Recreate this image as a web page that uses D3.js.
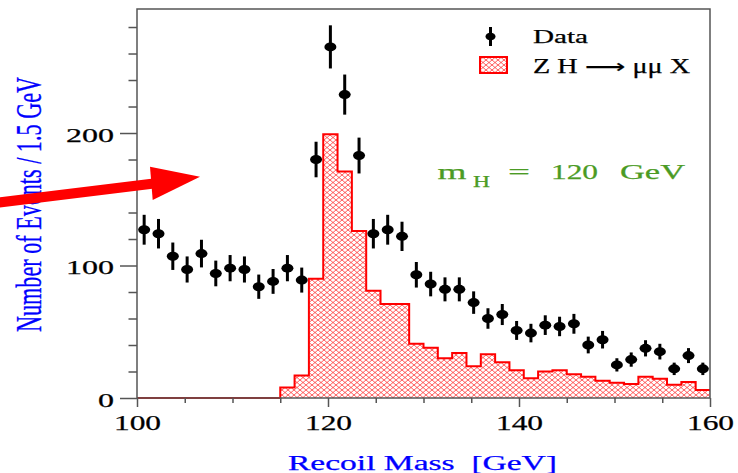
<!DOCTYPE html>
<html>
<head>
<meta charset="utf-8">
<script src="https://cdn.jsdelivr.net/npm/d3@7"></script>
<style>
  body { margin: 0; background: #fff; }
  text { font-family: "Liberation Serif", "Times New Roman", serif; }
</style>
</head>
<body>
<script>
// bin edges of the recoil mass histogram (1.5 GeV bins)
const binEdges = [100, 101.5, 103, 104.5, 106, 107.5, 109, 110.5, 112, 113.5,
  115, 116.5, 118, 119.5, 121, 122.5, 124, 125.5, 127, 128.5,
  130, 131.5, 133, 134.5, 136, 137.5, 139, 140.5, 142, 143.5,
  145, 146.5, 148, 149.5, 151, 152.5, 154, 155.5, 157, 158.5, 160];

// observed events per bin (black points)
const dataCounts = [127, 124, 107, 97, 109, 94, 98, 97, 84, 88,
  98, 89, 180, 265, 229, 183, 124, 127, 122, 93,
  86, 82, 82, 72, 60, 63, 51, 49, 55, 54,
  56, 40, 44, 25, 29, 37.5, 35, 22, 32, 22];

// Z H -> mu mu X signal per bin (red hatched histogram)
const signalCounts = [0, 0, 0, 0, 0, 0, 0, 0, 0, 0,
  8, 17, 90, 199, 171, 126, 81, 71, 71, 41,
  38, 30, 34, 24, 33, 27, 21, 15, 20, 21,
  18, 16, 13, 11.5, 10.5, 16, 14.5, 10, 12, 6];

const xMajorTicks = [100, 120, 140, 160];
const xMinorTicks = [105, 110, 115, 125, 130, 135, 145, 150, 155];
const yMajorTicks = [0, 100, 200];
const yMinorTicks = [20, 40, 60, 80, 120, 140, 160, 180, 220, 240, 260, 280];

const legendLabels = ['Data', 'Z H \u27f6 \u03bc\u03bc X'];

const W = 738, H = 473;
const svg = d3.select('body').append('svg')
  .attr('width', W).attr('height', H);

const x = d3.scaleLinear().domain([100, 160]).range([137, 710]);
const y = d3.scaleLinear().domain([0, 293.6]).range([398, 9]);

// hatch pattern
const defs = svg.append('defs');
defs.append('pattern')
  .attr('id', 'hatch')
  .attr('patternUnits', 'userSpaceOnUse')
  .attr('width', 6).attr('height', 5)
  .append('path')
  .attr('d', 'M0,0 L6,5 M6,0 L0,5')
  .attr('stroke', '#ff2a2a')
  .attr('stroke-width', 0.75)
  .attr('fill', 'none');

// histogram
const histPts = signalCounts.map((v, i) => [binEdges[i], v]);
histPts.push([binEdges[binEdges.length - 1], signalCounts[signalCounts.length - 1]]);

svg.append('path')
  .datum(histPts)
  .attr('d', d3.area().curve(d3.curveStepAfter)
    .x(d => x(d[0])).y0(y(0)).y1(d => y(d[1])))
  .attr('fill', 'url(#hatch)');

svg.append('path')
  .datum(histPts)
  .attr('d', d3.line().curve(d3.curveStepAfter)
    .x(d => x(d[0])).y(d => y(d[1])))
  .attr('fill', 'none')
  .attr('stroke', '#ff0000')
  .attr('stroke-width', 2);

// axes
const axisCol = '#555';
const yMinor = svg.append('g').attr('transform', `translate(${x(100)},0)`)
  .call(d3.axisLeft(y).tickValues(yMinorTicks).tickSize(8.5).tickFormat(''));
const yMajor = svg.append('g').attr('transform', `translate(${x(100)},0)`)
  .call(d3.axisLeft(y).tickValues(yMajorTicks).tickSize(17).tickPadding(6));
const xMinor = svg.append('g').attr('transform', `translate(0,${y(0)})`)
  .call(d3.axisBottom(x).tickValues(xMinorTicks).tickSize(5).tickFormat(''));
const xMajor = svg.append('g').attr('transform', `translate(0,${y(0)})`)
  .call(d3.axisBottom(x).tickValues(xMajorTicks).tickSize(9));

[yMinor, yMajor, xMinor, xMajor].forEach(g => {
  g.select('.domain').remove();
  g.selectAll('line').attr('stroke', axisCol).attr('stroke-width', 1.5);
});

yMajor.selectAll('text')
  .attr('font-family', '"Liberation Serif", serif')
  .attr('font-size', 19.5)
  .attr('fill', '#000')
  .attr('stroke', '#000').attr('stroke-width', 0.25)
  .attr('dy', '0.43em')
  .attr('textLength', d => String(d).length * 16)
  .attr('lengthAdjust', 'spacingAndGlyphs');

xMajor.selectAll('text')
  .attr('font-family', '"Liberation Serif", serif')
  .attr('font-size', 21)
  .attr('fill', '#000')
  .attr('stroke', '#000').attr('stroke-width', 0.25)
  .attr('y', 32)
  .attr('dy', null)
  .attr('textLength', d => String(d).length * 15.7)
  .attr('lengthAdjust', 'spacingAndGlyphs');

// frame
svg.append('rect')
  .attr('x', x(100)).attr('y', y(293.6))
  .attr('width', x(160) - x(100)).attr('height', y(0) - y(293.6))
  .attr('fill', 'none')
  .attr('stroke', axisCol)
  .attr('stroke-width', 1.5);

// data points with sqrt(N) errors
const centers = dataCounts.map((v, i) => (binEdges[i] + binEdges[i + 1]) / 2);
const pts = svg.append('g');
pts.selectAll('line')
  .data(dataCounts)
  .enter()
  .append('line')
  .attr('x1', (d, i) => x(centers[i]))
  .attr('x2', (d, i) => x(centers[i]))
  .attr('y1', d => y(d + Math.sqrt(d)))
  .attr('y2', d => y(d - Math.sqrt(d)))
  .attr('stroke', '#000')
  .attr('stroke-width', 3);
pts.selectAll('ellipse')
  .data(dataCounts)
  .enter()
  .append('ellipse')
  .attr('cx', (d, i) => x(centers[i]))
  .attr('cy', d => y(d))
  .attr('rx', 6)
  .attr('ry', 4.5)
  .attr('fill', '#000');

// text helper: stretched serif text, like the original picture
function label(str, px, py, size, len, anchor, col) {
  return svg.append('text')
    .attr('x', px).attr('y', py)
    .attr('font-size', size)
    .attr('textLength', len)
    .attr('lengthAdjust', 'spacingAndGlyphs')
    .attr('text-anchor', anchor || 'start')
    .attr('fill', col || '#000')
    .attr('stroke', col || '#000')
    .attr('stroke-width', 0.25)
    .style('white-space', 'pre')
    .text(str);
}

// legend
svg.append('line')
  .attr('x1', 490.5).attr('x2', 490.5).attr('y1', 27).attr('y2', 46)
  .attr('stroke', '#000').attr('stroke-width', 3);
svg.append('ellipse')
  .attr('cx', 490.5).attr('cy', 36.5).attr('rx', 5).attr('ry', 3.8)
  .attr('fill', '#000');
svg.append('rect')
  .attr('x', 480).attr('y', 57).attr('width', 27).attr('height', 16)
  .attr('fill', 'url(#hatch)')
  .attr('stroke', '#ff0000').attr('stroke-width', 2);
label(legendLabels[0], 533, 42.7, 19, 55);
label(legendLabels[1], 533, 72.7, 20, 157);

// mass annotation
const green = '#4b9b24';
label('m', 437.5, 179, 22, 29, 'start', green);
label('H', 473, 187, 16, 17, 'start', green);
label('=', 508, 179, 22, 22, 'start', green);
label('120', 551, 179, 21, 47, 'start', green);
label('GeV', 620, 179, 21, 65, 'start', green);

// axis titles
label('Recoil Mass  [GeV]', 288, 470, 20, 269, 'start', '#0000ff');
svg.append('text')
  .attr('transform', 'translate(41,204.5) rotate(-90) scale(1,1.6)')
  .attr('font-size', 22)
  .attr('textLength', 255)
  .attr('lengthAdjust', 'spacingAndGlyphs')
  .attr('text-anchor', 'middle')
  .attr('fill', '#0000ff')
  .attr('stroke', '#0000ff').attr('stroke-width', 0.2)
  .text('Number of Events / 1.5 GeV');

// red arrow
svg.append('line')
  .attr('x1', -5).attr('y1', 203).attr('x2', 158).attr('y2', 183)
  .attr('stroke', '#ff0000').attr('stroke-width', 10);
svg.append('polygon')
  .attr('points', '150,166.7 200,176.7 152.7,200')
  .attr('fill', '#ff0000');
</script>
</body>
</html>
